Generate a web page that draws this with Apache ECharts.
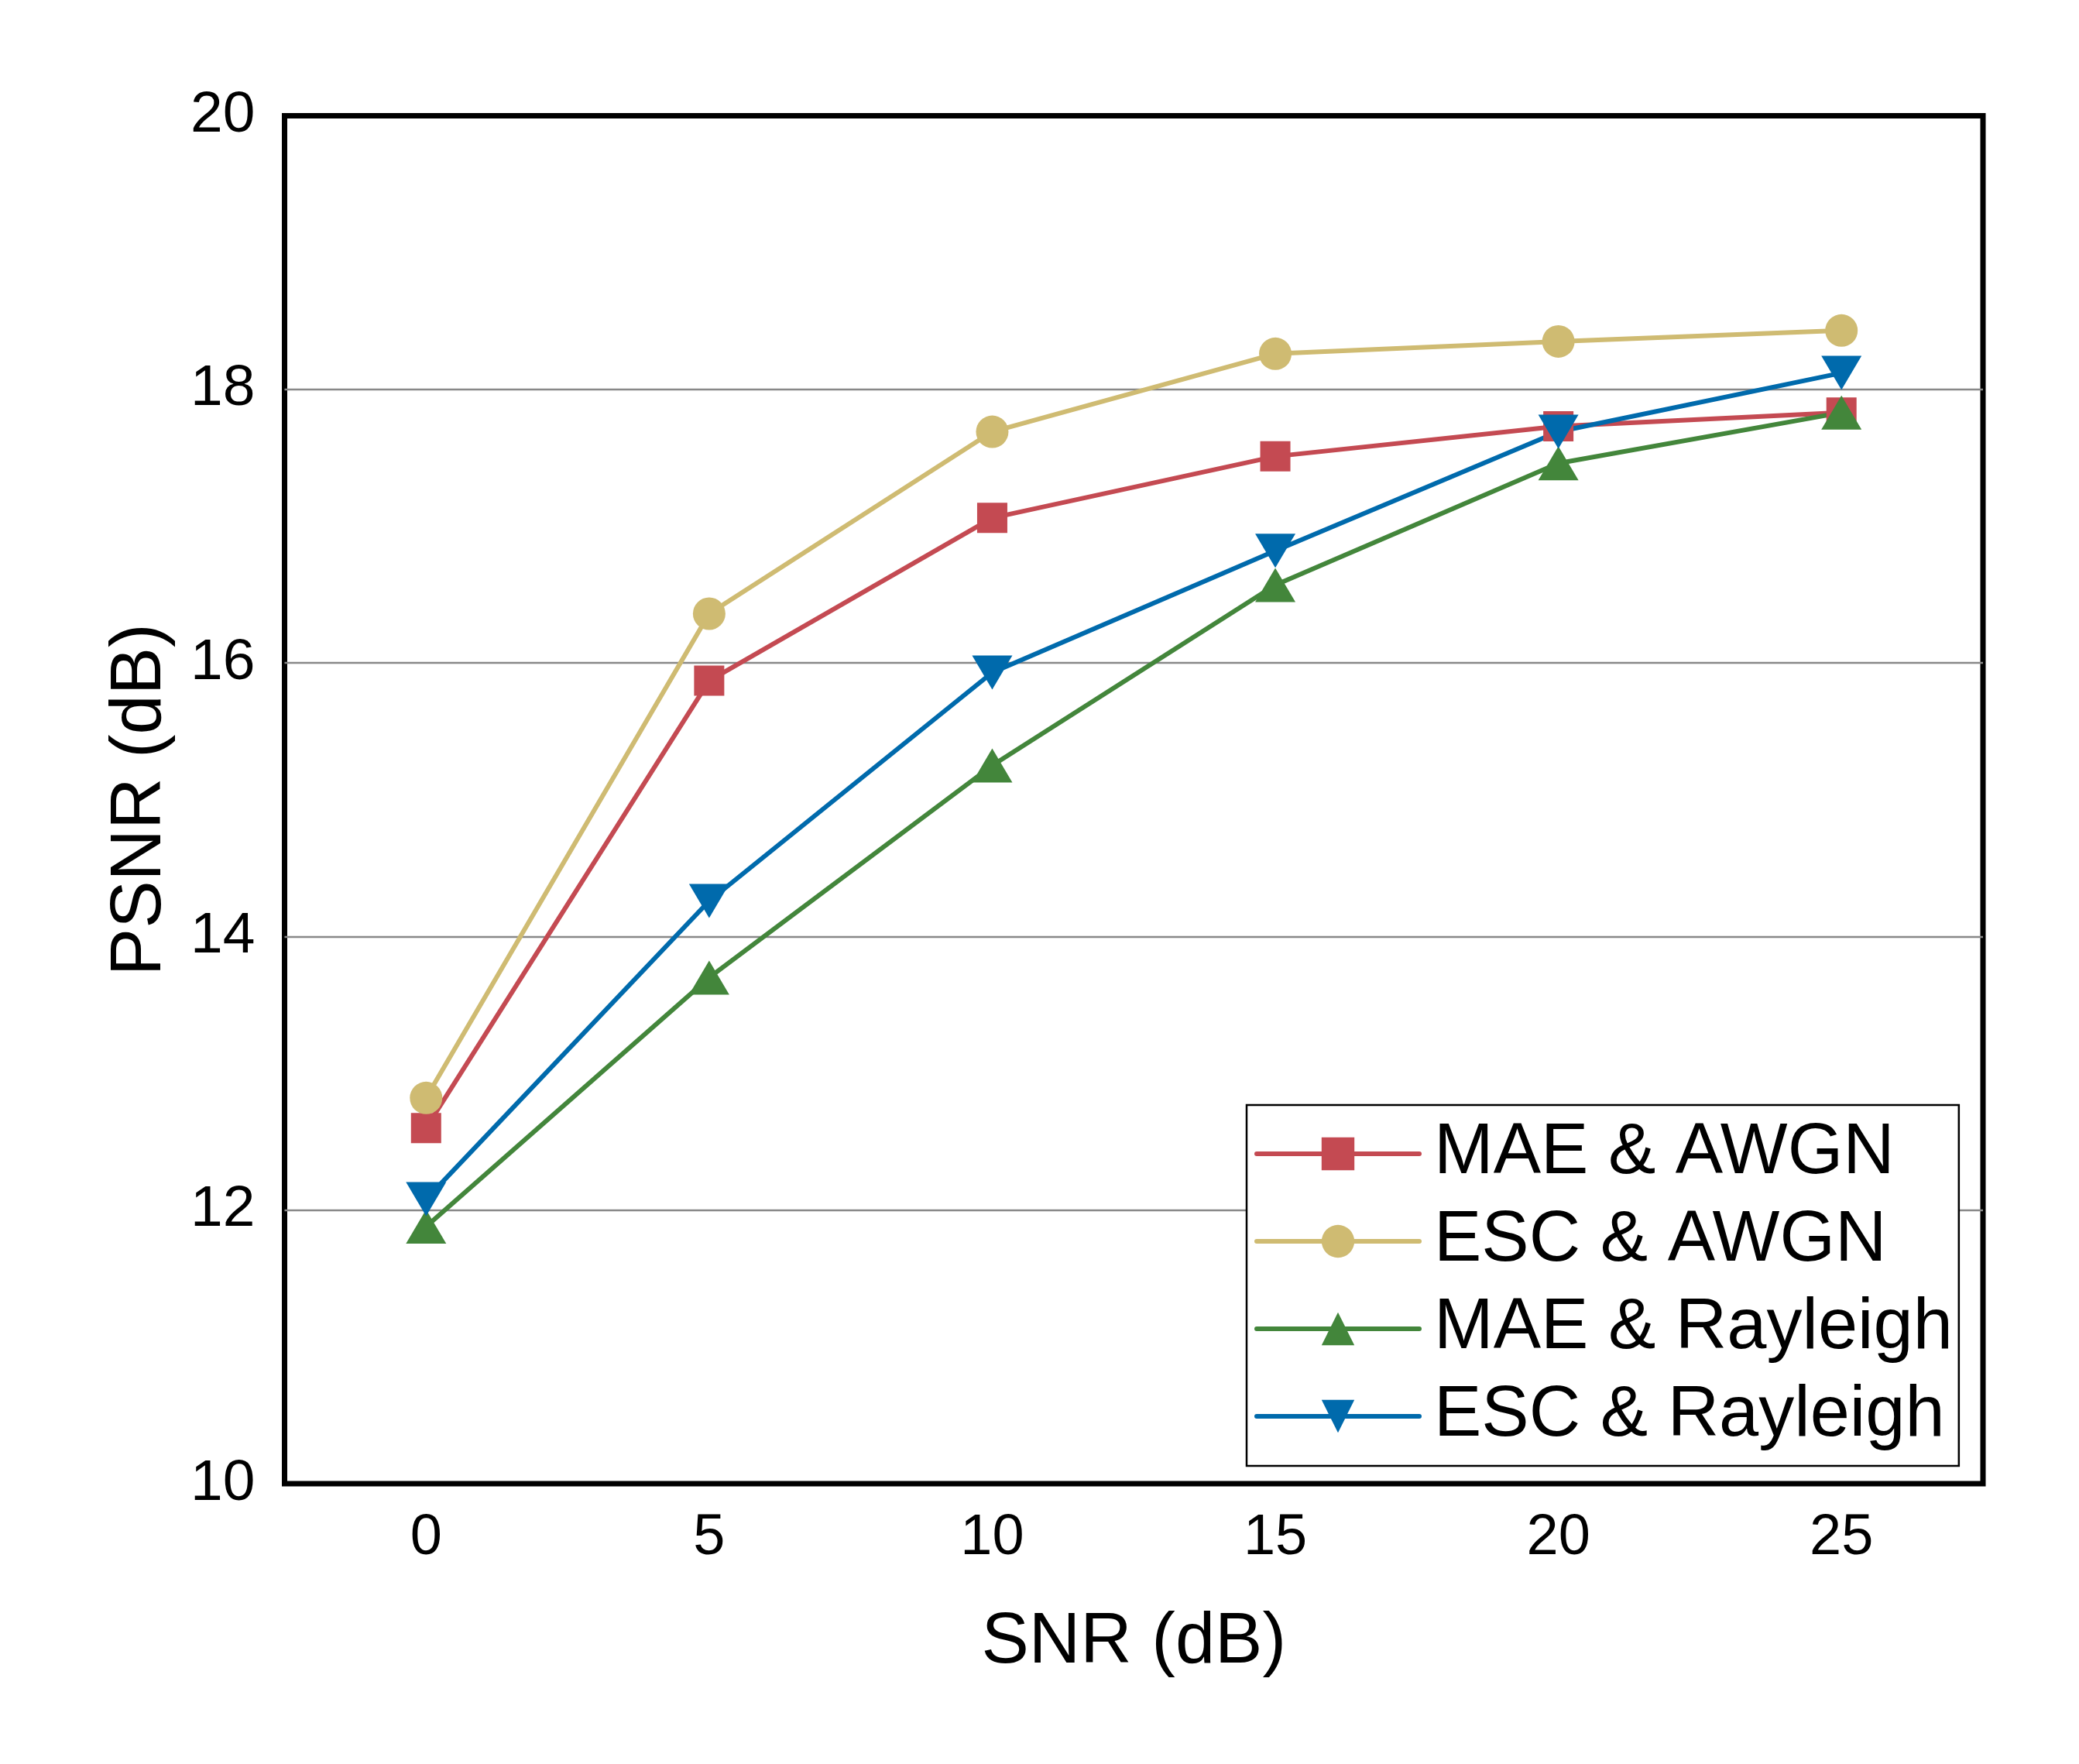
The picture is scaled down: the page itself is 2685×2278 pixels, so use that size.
<!DOCTYPE html>
<html>
<head>
<meta charset="utf-8">
<title>PSNR vs SNR</title>
<script src="https://cdn.jsdelivr.net/npm/echarts@6/dist/echarts.min.js"></script>
<style>
  html, body { margin: 0; padding: 0; background: #ffffff; }
  #chart { width: 2685px; height: 2278px; }
</style>
</head>
<body>
<div id="chart"></div>
<script>
// x categories (SNR in dB)
const snrLabels = ['0', '5', '10', '15', '20', '25'];

// PSNR values
const maeAwgn = [12.60, 15.87, 17.06, 17.51, 17.73, 17.83];
const escAwgn = [12.82, 16.36, 17.69, 18.26, 18.35, 18.43];
const maeRayleigh = [11.88, 13.70, 15.25, 16.57, 17.46, 17.83];
const escRayleigh = [12.08, 14.26, 15.93, 16.82, 17.69, 18.12];

const seriesNames = ['MAE & AWGN', 'ESC & AWGN', 'MAE & Rayleigh', 'ESC & Rayleigh'];

const FONT = 'Arial, "Liberation Sans", Helvetica, sans-serif';

const chart = echarts.init(document.getElementById('chart'), null, { renderer: 'canvas' });

function lineSeries(name, values, color, symbol, size, rotate) {
  return {
    name: name,
    type: 'line',
    data: values,
    symbol: symbol,
    symbolSize: size,
    symbolRotate: rotate || 0,
    showAllSymbol: true,
    color: color,
    lineStyle: { color: color, width: 6 },
    itemStyle: { color: color },
    emphasis: { disabled: true },
    animation: false
  };
}

const option = {
  backgroundColor: '#ffffff',
  animation: false,
  grid: {
    left: 367.5,
    top: 149.5,
    right: 124,
    bottom: 362,
    show: true,
    borderColor: '#000000',
    borderWidth: 7,
    containLabel: false
  },
  legend: {
    data: seriesNames,
    orient: 'vertical',
    left: 1610,
    top: 1427,
    padding: [15.5, 8, 16.5, 10],
    itemGap: 18,
    itemWidth: 210,
    itemHeight: 53,
    backgroundColor: '#ffffff',
    borderColor: '#000000',
    borderWidth: 2.5,
    borderRadius: 0,
    lineStyle: { width: 6, cap: 'round' },
    textStyle: {
      fontFamily: FONT,
      fontSize: 92,
      lineHeight: 95,
      color: '#000000',
      padding: [0, 0, 0, 14]
    },
    selectedMode: false
  },
  xAxis: {
    type: 'category',
    data: snrLabels,
    boundaryGap: true,
    name: 'SNR (dB)',
    nameLocation: 'middle',
    nameGap: 160,
    nameTextStyle: { fontFamily: FONT, fontSize: 92, color: '#000000' },
    axisLine: { show: false },
    axisTick: { show: false },
    axisLabel: { fontFamily: FONT, fontSize: 74, color: '#000000', margin: 34 },
    splitLine: { show: false }
  },
  yAxis: {
    type: 'value',
    min: 10,
    max: 20,
    interval: 2,
    name: 'PSNR (dB)',
    nameLocation: 'middle',
    nameGap: 140,
    nameTextStyle: { fontFamily: FONT, fontSize: 92, color: '#000000' },
    axisLine: { show: false },
    axisTick: { show: false },
    axisLabel: { fontFamily: FONT, fontSize: 75, color: '#000000', margin: 38 },
    splitLine: {
      show: true,
      showMinLine: false,
      showMaxLine: false,
      lineStyle: { color: '#888888', width: 2.3 }
    }
  },
  series: [
    lineSeries(seriesNames[0], maeAwgn, '#C44A52', 'rect', 39),
    lineSeries(seriesNames[1], escAwgn, '#CFBB72', 'circle', 42),
    lineSeries(seriesNames[2], maeRayleigh, '#43863B', 'triangle', [52, 44]),
    lineSeries(seriesNames[3], escRayleigh, '#006AAC', 'triangle', [52, 44], 180)
  ]
};

chart.setOption(option);
window.addEventListener('resize', () => chart.resize());
</script>
</body>
</html>
